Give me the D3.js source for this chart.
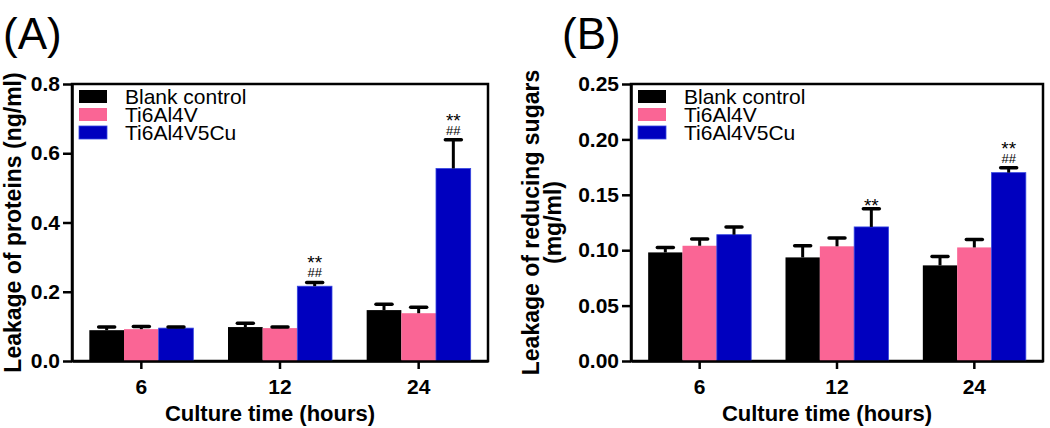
<!DOCTYPE html>
<html>
<head>
<meta charset="utf-8">
<title>Leakage of proteins and reducing sugars</title>
<style>
    body { margin: 0; background: #fff; }
    svg { display: block; font-family: "Liberation Sans", Arial, sans-serif; }
    .domain, .tick line { stroke: #000; stroke-width: 2.5px; }
    .tick text { font-size: 21px; font-weight: bold; fill: #000; }
</style>
</head>
<body>
<div id="chart"></div>
<script src="https://cdn.jsdelivr.net/npm/d3@7"></script>
<script>
    const groups = ["6", "12", "24"];
    const series = ["Blank control", "Ti6Al4V", "Ti6Al4V5Cu"];
    const colors = ["#000000", "#fa6595", "#0000bf"];

    // panel A, one row per series, one value per culture time
    const proteinMean = [
        [0.089, 0.098, 0.147],
        [0.092, 0.095, 0.138],
        [0.095, 0.216, 0.556]
    ];
    const proteinErr = [
        [0.009, 0.011, 0.017],
        [0.008, 0.003, 0.017],
        [0.003, 0.011, 0.083]
    ];
    const proteinStars = [["", "", ""], ["", "", ""], ["", "**", "**"]];
    const proteinHash = [["", "", ""], ["", "", ""], ["", "##", "##"]];
    const proteinTicks = [0, 0.2, 0.4, 0.6, 0.8];

    // panel B
    const sugarMean = [
        [0.098, 0.0935, 0.0863],
        [0.104, 0.1035, 0.1025],
        [0.114, 0.121, 0.170]
    ];
    const sugarErr = [
        [0.0045, 0.0105, 0.008],
        [0.006, 0.0075, 0.0072],
        [0.007, 0.0165, 0.0045]
    ];
    const sugarStars = [["", "", ""], ["", "", ""], ["", "**", "**"]];
    const sugarHash = [["", "", ""], ["", "", ""], ["", "", "##"]];
    const sugarTicks = [0, 0.05, 0.10, 0.15, 0.20, 0.25];

    const svg = d3.select("#chart").append("svg")
        .attr("width", 1050)
        .attr("height", 428);

    function drawPanel(opts) {
        const w = opts.width, h = 277;
        const g = svg.append("g").attr("transform", `translate(${opts.left},84)`);

        const x = d3.scaleBand().domain(groups).range([0, w])
            .paddingInner(0.25).paddingOuter(0.125);
        const xs = d3.scaleBand().domain(series).range([0, x.bandwidth()]);
        const y = d3.scaleLinear().domain([0, opts.max]).range([h, 0]);

        // frame (top + right)
        g.append("rect")
            .attr("width", w).attr("height", h)
            .attr("fill", "none").attr("stroke", "#000").attr("stroke-width", 2.5);

        const rows = [];
        series.forEach((s, si) => {
            groups.forEach((grp, gi) => {
                rows.push({
                    s: s, si: si, grp: grp,
                    mean: opts.mean[si][gi], err: opts.err[si][gi],
                    star: opts.stars[si][gi], hash: opts.hash[si][gi]
                });
            });
        });

        g.selectAll("rect.bar").data(rows).enter().append("rect")
            .attr("class", "bar")
            .attr("x", d => x(d.grp) + xs(d.s))
            .attr("y", d => y(d.mean))
            .attr("width", xs.bandwidth())
            .attr("height", d => h - y(d.mean))
            .attr("fill", d => colors[d.si])
            .attr("stroke", d => d.si === 2 ? "#3646e0" : "none")
            .attr("stroke-width", 0.8);

        const cx = d => x(d.grp) + xs(d.s) + xs.bandwidth() / 2;

        g.selectAll("line.err").data(rows).enter().append("line")
            .attr("class", "err")
            .attr("x1", cx).attr("x2", cx)
            .attr("y1", d => y(d.mean)).attr("y2", d => y(d.mean + d.err))
            .attr("stroke", "#000").attr("stroke-width", 3);

        g.selectAll("line.cap").data(rows).enter().append("line")
            .attr("class", "cap")
            .attr("x1", d => cx(d) - 8).attr("x2", d => cx(d) + 8)
            .attr("y1", d => y(d.mean + d.err)).attr("y2", d => y(d.mean + d.err))
            .attr("stroke", "#000").attr("stroke-width", 3.5)
            .attr("stroke-linecap", "round");

        // significance marks: ** with ## stacked underneath, one label per bar
        const sig = g.selectAll("text.sig").data(rows.filter(d => d.star || d.hash)).enter()
            .append("text")
            .attr("class", "sig")
            .attr("text-anchor", "middle")
            .attr("x", cx)
            .attr("y", d => y(d.mean + d.err) + (d.hash ? -13 : 3));
        sig.append("tspan")
            .style("font-size", "19px")
            .text(d => d.star);
        sig.filter(d => d.hash).append("tspan")
            .attr("x", cx)
            .attr("dy", 8)
            .style("font-size", "13px")
            .text(d => d.hash);

        g.append("g")
            .attr("transform", `translate(0,${h})`)
            .call(d3.axisBottom(x).tickSize(8).tickSizeOuter(0).tickPadding(6))
            .selectAll(".tick text").attr("dy", "0.9em");

        g.append("g")
            .call(d3.axisLeft(y).tickValues(opts.ticks).tickSize(9).tickSizeOuter(0)
                .tickPadding(3).tickFormat(d3.format(opts.fmt)));

        // legend
        const leg = g.append("g").attr("transform", "translate(7,6)");
        series.forEach((s, i) => {
            leg.append("rect")
                .attr("x", 0).attr("y", i * 18)
                .attr("width", 28).attr("height", 13)
                .attr("fill", colors[i])
                .attr("stroke", i === 2 ? "#3646e0" : "none").attr("stroke-width", 0.8);
            leg.append("text")
                .attr("x", 46).attr("y", i * 18 + 7)
                .attr("dy", "0.35em")
                .style("font-size", "21px")
                .text(s);
        });

        g.append("text")
            .attr("x", w / 2 - 10).attr("y", 337)
            .attr("text-anchor", "middle")
            .style("font-size", "22px").style("font-weight", "bold")
            .text("Culture time (hours)");

        const yt = g.append("text")
            .attr("transform", `translate(${opts.titleX},${h / 2}) rotate(-90)`)
            .attr("text-anchor", "middle")
            .style("font-size", "23px").style("font-weight", "bold");
        opts.title.forEach((t, i) => {
            yt.append("tspan")
                .attr("x", 0)
                .attr("dy", i === 0 ? 0 : 22)
                .text(t);
        });

        svg.append("text")
            .attr("x", opts.left - 69).attr("y", 49)
            .style("font-size", "44px")
            .text(opts.letter);
    }

    drawPanel({
        left: 72, width: 416, max: 0.8,
        mean: proteinMean, err: proteinErr, stars: proteinStars, hash: proteinHash,
        ticks: proteinTicks, fmt: ".1f",
        title: ["Leakage of proteins (ng/ml)"], titleX: -51,
        letter: "(A)"
    });

    drawPanel({
        left: 631, width: 412, max: 0.25,
        mean: sugarMean, err: sugarErr, stars: sugarStars, hash: sugarHash,
        ticks: sugarTicks, fmt: ".2f",
        title: ["Leakage of reducing sugars", "(mg/ml)"], titleX: -92,
        letter: "(B)"
    });
</script>
</body>
</html>
